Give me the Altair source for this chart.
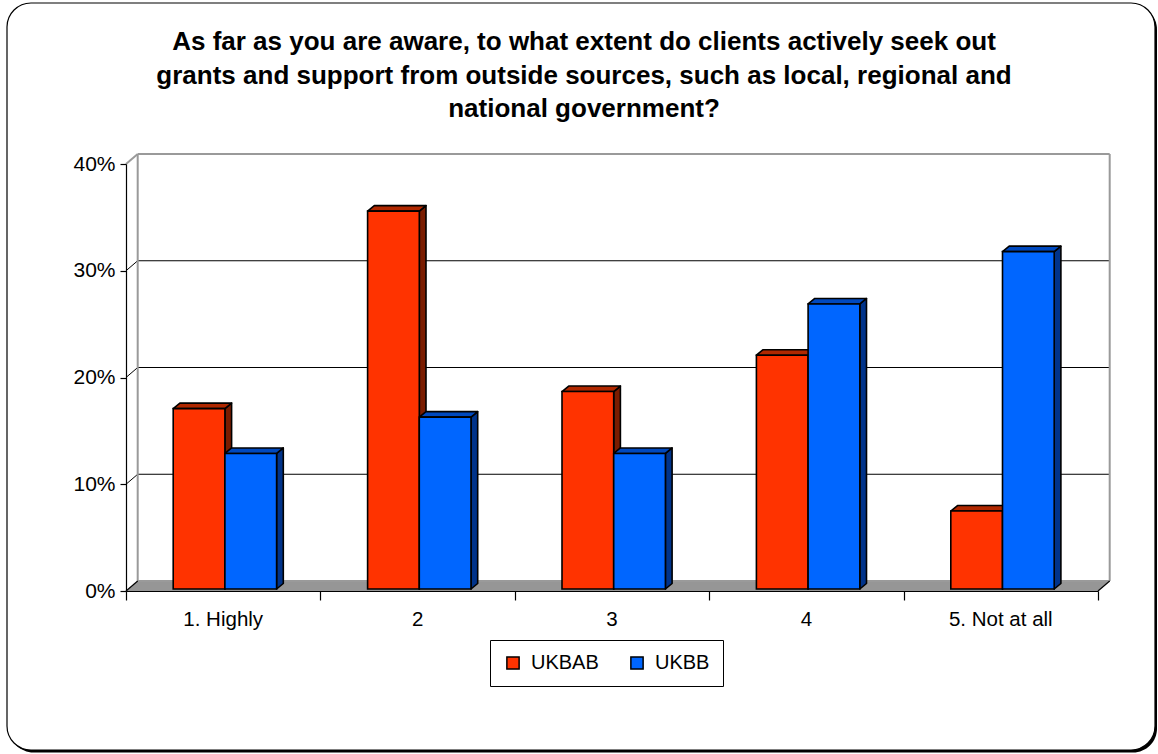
import altair as alt
import pandas as pd

# ---- chart content -------------------------------------------------------
TITLE_LINES = [
    "As far as you are aware, to what extent do clients actively seek out",
    "grants and support from outside sources, such as local, regional and",
    "national government?",
]
CATEGORIES = ["1. Highly", "2", "3", "4", "5. Not at all"]
SERIES = ["UKBAB", "UKBB"]
UKBAB = [16.9, 35.4, 18.5, 21.9, 7.3]
UKBB = [12.7, 16.1, 12.7, 26.7, 31.6]
Y_TICKS = [0, 10, 20, 30, 40]

FRONT_COLORS = ["#FF3300", "#0066FF"]
TOP_COLORS = ["#B02800", "#0049BF"]
SIDE_COLORS = ["#7A1C00", "#00338A"]

FONT = "Liberation Sans"

# ---- geometry of the pseudo-3D box -----------------------------------------
W, H = 972, 427                      # front plane of the plot
X_MAX = len(CATEGORIES)
Y_MAX = Y_TICKS[-1]
PX_X = W / X_MAX
PX_Y = H / Y_MAX


def ux(px):
    return px / PX_X


def uy(px):
    return px / PX_Y


WALL_DX, WALL_DY = ux(11.7), uy(10)      # depth of the back wall
BAR_DX, BAR_DY = ux(6.7), uy(5.5)        # depth of each bar
BASE_DX, BASE_DY = ux(1.7), uy(2.0)      # bars stand slightly behind the front
BAR_W = ux(51.7)

xs = alt.Scale(domain=[0, X_MAX], nice=False, zero=False)
ys = alt.Scale(domain=[0, Y_MAX], nice=False, zero=False)

x_axis = alt.Axis(values=list(range(X_MAX + 1)), labels=False, title=None,
                  grid=False, tickSize=9, tickColor="black", domainColor="black",
                  domainWidth=1.2, tickWidth=1.2, zindex=1)
y_axis = alt.Axis(values=Y_TICKS, labelExpr="datum.value + '%'", title=None,
                  grid=False, tickSize=6, tickColor="black", domainColor="black",
                  domainWidth=1.2, tickWidth=1.2, labelFontSize=21, labelFont=FONT,
                  labelColor="black", labelPadding=5, zindex=1)


def X(field):
    return alt.X(field, type="quantitative", scale=xs, axis=x_axis, stack=None)


def Y(field):
    return alt.Y(field, type="quantitative", scale=ys, axis=y_axis, stack=None)


# ---- bar tables ------------------------------------------------------------
fronts, sides, tops = [], [], []
for i, cat in enumerate(CATEGORIES):
    for j, (name, values) in enumerate(zip(SERIES, [UKBAB, UKBB])):
        v = values[i]
        bid = f"{i}-{j}"
        x0 = i + 0.5 + (j - 1) * BAR_W + BASE_DX
        x1 = x0 + BAR_W
        y0 = BASE_DY
        y1 = BASE_DY + v
        fronts.append(dict(cat=cat, series=name, value=v, x0=x0, x1=x1, y0=y0, y1=y1))
        sides.append(dict(id=bid, x=x1, top=y1, bot=y0, fill=SIDE_COLORS[j]))
        sides.append(dict(id=bid, x=x1 + BAR_DX, top=y1 + BAR_DY, bot=y0 + BAR_DY,
                          fill=SIDE_COLORS[j]))
        tops.append(dict(id=bid, y=y1, xa=x0, xb=x1, fill=TOP_COLORS[j]))
        tops.append(dict(id=bid, y=y1 + BAR_DY, xa=x0 + BAR_DX, xb=x1 + BAR_DX,
                         fill=TOP_COLORS[j]))

fronts = pd.DataFrame(fronts)
sides = pd.DataFrame(sides)
tops = pd.DataFrame(tops)
labels = pd.DataFrame({"cat": CATEGORIES, "pos": [i + 0.5 for i in range(X_MAX)]})
heading = pd.DataFrame({"text": ["\n".join(TITLE_LINES)]})

# ---- walls, floor and gridlines ---------------------------------------------
grid = pd.DataFrame(
    [dict(x=WALL_DX, x2=X_MAX + WALL_DX, y=t + WALL_DY, y2=t + WALL_DY) for t in Y_TICKS[1:-1]]
    + [dict(x=0, x2=WALL_DX, y=t, y2=t + WALL_DY) for t in Y_TICKS[1:-1]]
)
wall_edges = pd.DataFrame([
    dict(x=WALL_DX, x2=WALL_DX, y=WALL_DY, y2=Y_MAX + WALL_DY),
    dict(x=WALL_DX, x2=X_MAX + WALL_DX, y=Y_MAX + WALL_DY, y2=Y_MAX + WALL_DY),
    dict(x=X_MAX + WALL_DX, x2=X_MAX + WALL_DX, y=WALL_DY, y2=Y_MAX + WALL_DY),
    dict(x=0, x2=WALL_DX, y=Y_MAX, y2=Y_MAX + WALL_DY),
    dict(x=WALL_DX, x2=X_MAX + WALL_DX, y=WALL_DY, y2=WALL_DY),
])
floor_edges = pd.DataFrame([
    dict(x=0, x2=WALL_DX, y=0, y2=WALL_DY),
    dict(x=X_MAX, x2=X_MAX + WALL_DX, y=0, y2=WALL_DY),
])
floor = pd.DataFrame([
    dict(y=0, xa=0, xb=X_MAX),
    dict(y=WALL_DY, xa=WALL_DX, xb=X_MAX + WALL_DX),
])

one = pd.DataFrame({"k": [0]})

# rounded outer frame with a small drop shadow
shadow = alt.Chart(one).mark_rect(cornerRadius=24, fill="black").encode(
    x=alt.value(-116.5), x2=alt.value(1031), y=alt.value(-158.5), y2=alt.value(588.5))
frame = alt.Chart(one).mark_rect(cornerRadius=24, fill="white", stroke="black",
                                 strokeWidth=1.2).encode(
    x=alt.value(-119), x2=alt.value(1029), y=alt.value(-161), y2=alt.value(586))

# three-line heading, centred over the whole chart
title_layer = alt.Chart(heading).mark_text(
    font=FONT, fontSize=26, fontWeight="bold", color="black", align="center",
    baseline="alphabetic", lineBreak="\n", lineHeight=33.5,
).encode(x=alt.value(458), y=alt.value(-114), text="text:N")

floor_layer = alt.Chart(floor).mark_area(orient="horizontal", fill="#969696").encode(
    y=Y("y"), x=X("xa"), x2="xb")

grid_layer = alt.Chart(grid).mark_rule(color="black", strokeWidth=1).encode(
    x=X("x"), x2="x2", y=Y("y"), y2="y2")
wall_layer = alt.Chart(wall_edges).mark_rule(color="#9A9A9A", strokeWidth=2).encode(
    x=X("x"), x2="x2", y=Y("y"), y2="y2")
floor_edge_layer = alt.Chart(floor_edges).mark_rule(color="black", strokeWidth=1.2).encode(
    x=X("x"), x2="x2", y=Y("y"), y2="y2")

side_layer = alt.Chart(sides).mark_area(stroke="black", strokeWidth=1.6,
                                        strokeJoin="round").encode(
    x=X("x"), y=Y("top"), y2="bot", detail="id:N",
    fill=alt.Fill("fill:N", scale=None))
top_layer = alt.Chart(tops).mark_area(orient="horizontal", stroke="black",
                                      strokeWidth=1.6, strokeJoin="round").encode(
    y=Y("y"), x=X("xa"), x2="xb", detail="id:N",
    fill=alt.Fill("fill:N", scale=None))
front_layer = alt.Chart(fronts).mark_rect(stroke="black", strokeWidth=1.6).encode(
    x=X("x0"), x2="x1", y=Y("y0"), y2="y1",
    color=alt.Color("series:N",
                    scale=alt.Scale(domain=SERIES, range=FRONT_COLORS),
                    legend=alt.Legend(title=None, orient="none", direction="horizontal",
                                      legendX=364, legendY=476)),
)
label_layer = alt.Chart(labels).mark_text(font=FONT, fontSize=20.5, color="black",
                                          baseline="alphabetic").encode(
    x=X("pos"), y=alt.value(H + 35), text="cat:N")

chart = alt.layer(
    shadow, frame, title_layer, floor_layer, grid_layer, wall_layer, floor_edge_layer,
    side_layer, top_layer, front_layer, label_layer,
).properties(
    width=W, height=H,
    padding={"left": 126, "top": 164, "right": 60, "bottom": 163},
    autosize=alt.AutoSizeParams(type="none"),
).configure_view(stroke=None).configure(background="white").configure_legend(
    symbolType="square", symbolSize=150, symbolStrokeColor="black",
    symbolStrokeWidth=1.5, labelFont=FONT, labelFontSize=20, labelColor="black",
    labelOffset=8, columnPadding=28, padding=13, strokeColor="black",
    fillColor="white", cornerRadius=0, zindex=1,
)

chart.save("out.html", embed_options={"renderer": "svg", "actions": False})
